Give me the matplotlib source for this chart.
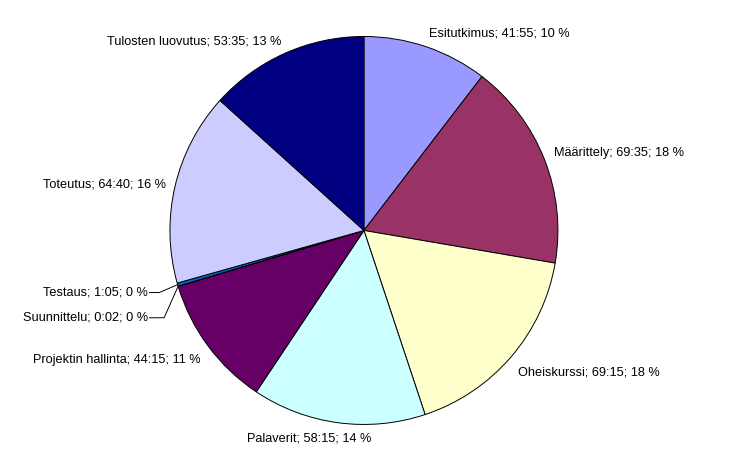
import numpy as np
import matplotlib
matplotlib.use('Agg')
import matplotlib.pyplot as plt

plt.rcParams['font.family'] = ['Liberation Sans', 'DejaVu Sans']

# Vaiheet, käytetty aika (h:min) ja kuvassa näkyvät prosentit
phases = ['Esitutkimus', 'Määrittely', 'Oheiskurssi', 'Palaverit', 'Projektin hallinta',
          'Suunnittelu', 'Testaus', 'Toteutus', 'Tulosten luovutus']
times = ['41:55', '69:35', '69:15', '58:15', '44:15', '0:02', '1:05', '64:40', '53:35']
pct_labels = [10, 18, 18, 14, 11, 0, 0, 16, 13]
colors = ['#9999FF', '#993366', '#FFFFCC', '#CCFFFF', '#660066',
          '#FF8080', '#0066CC', '#CCCCFF', '#000080']

minutes = np.array([int(t.split(':')[0]) * 60 + int(t.split(':')[1]) for t in times])

fig = plt.figure(figsize=(7.3, 4.65), dpi=100)
ax = fig.add_axes([0, 0, 1, 1])

wedges, _ = ax.pie(minutes, colors=colors, startangle=90, counterclock=False,
                   radius=1.0, wedgeprops=dict(edgecolor='black', linewidth=0.7))

# pie() asettaa omat rajat, joten rajat vasta tämän jälkeen
ax.set_xlim(-1.876, 1.887)
ax.set_ylim(-1.209, 1.188)
ax.set_aspect('equal')
ax.axis('off')

labels = [f'{p}; {t}; {v} %' for p, t, v in zip(phases, times, pct_labels)]

# pienet siirrot (pisteinä) joillekin selitteille
nudge = {'Palaverit': (-20, 0), 'Esitutkimus': (0, 3), 'Tulosten luovutus': (0, 2),
         'Oheiskurssi': (0, -7), 'Projektin hallinta': (0, -6), 'Määrittely': (0, 2)}

small_y = {'Testaus': -0.32, 'Suunnittelu': -0.45}
for w, lab, name in zip(wedges, labels, phases):
    mid = np.deg2rad((w.theta1 + w.theta2) / 2)
    c, s = np.cos(mid), np.sin(mid)
    if name in small_y:
        ex, ey = 1.0 * c, 1.0 * s
        ty = small_y[name]
        tx = -1.115
        kink = -1.055 if name == 'Testaus' else -1.03
        ax.plot([tx + 0.01, kink, ex], [ty, ty, ey], color='black', lw=0.7)
        ax.text(tx, ty, lab, ha='right', va='center', fontsize=9.2)
        continue
    r = 1.05
    if c > 0.3:
        ha = 'left'
    elif c < -0.3:
        ha = 'right'
    else:
        ha = 'center'
    va = 'top' if s < -0.9 else 'center'
    ax.annotate(lab, (r * c, r * s), xytext=nudge.get(name, (0, 0)),
                textcoords='offset points', ha=ha, va=va, fontsize=9.2)

fig.savefig('out.png', dpi=100)
